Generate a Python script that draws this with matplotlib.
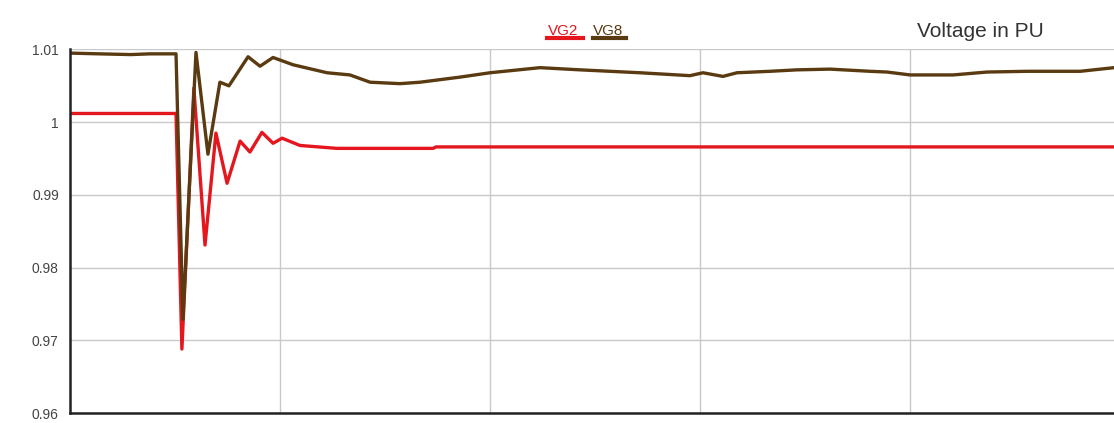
import matplotlib.pyplot as plt
from matplotlib.lines import Line2D

# generator terminal voltages (pu) after the fault, time in s
t_vg8 = [0.005, 0.14, 0.29, 0.38, 0.505, 0.538, 0.6, 0.657, 0.714, 0.757, 0.848,
         0.905, 0.967, 1.062, 1.224, 1.333, 1.429, 1.571, 1.667, 1.857, 2.0,
         2.238, 2.429, 2.714, 2.952, 3.014, 3.109, 3.176, 3.333, 3.462, 3.619,
         3.81, 3.89, 4.0, 4.205, 4.367, 4.557, 4.81, 4.971]
vg8 = [1.0095, 1.0094, 1.0093, 1.0094, 1.0094, 0.9729, 1.0096, 0.9956, 1.0055,
       1.0050, 1.0090, 1.0077, 1.0089, 1.0079, 1.0068, 1.0065, 1.0055, 1.0053,
       1.0055, 1.0062, 1.0068, 1.0075, 1.0072, 1.0068, 1.0064, 1.0068, 1.0063,
       1.0068, 1.0070, 1.0072, 1.0073, 1.0070, 1.0069, 1.0065, 1.0065, 1.0069,
       1.0070, 1.0070, 1.0075]

t_vg2 = [0.005, 0.505, 0.533, 0.59, 0.643, 0.695, 0.748, 0.81, 0.857, 0.914,
         0.967, 1.01, 1.095, 1.271, 1.729, 1.743, 4.971]
vg2 = [1.0012, 1.0012, 0.9688, 1.0047, 0.9831, 0.9985, 0.9916, 0.9974, 0.9959,
       0.9986, 0.9971, 0.9978, 0.9968, 0.9964, 0.9964, 0.9966, 0.9966]

red = '#e3171d'
brown = '#5a3a10'

plt.rcParams['font.family'] = ['Liberation Sans', 'DejaVu Sans']

fig = plt.figure(figsize=(11.14, 4.23), dpi=100)
ax = fig.add_axes([0.0628, 0.0236, 0.9372, 0.8594])

ax.plot(t_vg2, vg2, color=red, lw=2.4, solid_joinstyle='round')
ax.plot(t_vg8, vg8, color=brown, lw=2.4, solid_joinstyle='round')

ax.set_xlim(0, 4.971)
ax.set_ylim(0.96, 1.01)
ax.set_yticks([0.96, 0.97, 0.98, 0.99, 1.0, 1.01])
ax.set_yticklabels(['0.96', '0.97', '0.98', '0.99', '1', '1.01'])
ax.set_xticks([1, 2, 3, 4])
ax.tick_params(axis='x', length=0, labelbottom=False)
ax.tick_params(axis='y', length=0, pad=8, labelsize=10, labelcolor='#444444')
ax.grid(True, color='#c9c9c9', lw=1)
ax.set_axisbelow(True)

for side in ['top', 'right']:
    ax.spines[side].set_visible(False)
for side in ['left', 'bottom']:
    ax.spines[side].set_color('#222222')
    ax.spines[side].set_linewidth(1.8)

# legend as underlined labels above the plot
fig.text(548 / 1114, 1 - 35 / 423, 'VG2', color=red, fontsize=11)
fig.add_artist(Line2D([547 / 1114, 583 / 1114], [1 - 38.5 / 423] * 2,
                      color=red, lw=3))
fig.text(593 / 1114, 1 - 35 / 423, 'VG8', color=brown, fontsize=11)
fig.add_artist(Line2D([593 / 1114, 626 / 1114], [1 - 38.5 / 423] * 2,
                      color=brown, lw=3))

fig.text(917 / 1114, 1 - 37 / 423, 'Voltage in PU', color='#333333', fontsize=15)

fig.savefig('out.png', dpi=100)
